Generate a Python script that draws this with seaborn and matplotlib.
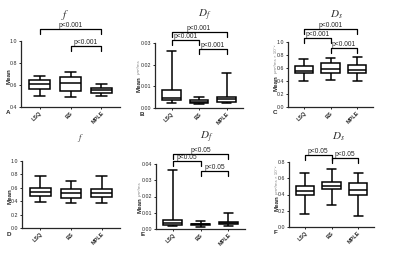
import numpy as np
import pandas as pd
import matplotlib
matplotlib.use("Agg")
import matplotlib.pyplot as plt
import seaborn as sns

sns.set_style("ticks")
plt.rcParams['font.family'] = ['Liberation Sans', 'DejaVu Sans']
plt.rcParams['mathtext.fontset'] = 'stix'

methods = ["LSQ", "BS", "MPLE"]

# five-number summaries (min, q1, median, q3, max)
f_1 = [[0.50, 0.56, 0.61, 0.645, 0.685],
       [0.49, 0.545, 0.615, 0.67, 0.72],
       [0.50, 0.53, 0.55, 0.575, 0.61]]
df_1 = [[0.0025, 0.0037, 0.0045, 0.0085, 0.0265],
        [0.0020, 0.0025, 0.0030, 0.0037, 0.0053],
        [0.0025, 0.0030, 0.0040, 0.0050, 0.0160]]
ds_1 = [[0.40, 0.52, 0.56, 0.63, 0.74],
        [0.41, 0.53, 0.59, 0.67, 0.76],
        [0.40, 0.53, 0.575, 0.65, 0.77]]
f_2 = [[0.39, 0.48, 0.53, 0.60, 0.78],
       [0.38, 0.45, 0.52, 0.58, 0.70],
       [0.37, 0.47, 0.52, 0.58, 0.78]]
df_2 = [[0.0020, 0.0027, 0.0035, 0.0058, 0.0365],
        [0.0012, 0.0025, 0.0030, 0.0033, 0.0048],
        [0.0020, 0.0028, 0.0035, 0.0045, 0.0100]]
ds_2 = [[0.16, 0.39, 0.44, 0.51, 0.66],
        [0.27, 0.465, 0.50, 0.555, 0.71],
        [0.13, 0.40, 0.46, 0.54, 0.67]]

# brackets: (left group, right group, height, label)
br_A = [(0, 2, 1.11, "p<0.001"), (1, 2, 0.955, "p<0.001")]
br_B = [(0, 2, 0.0351, "p<0.001"), (0, 1, 0.0314, "p<0.001"), (1, 2, 0.0272, "p<0.001")]
br_C = [(0, 2, 1.20, "p<0.001"), (0, 1, 1.06, "p<0.001"), (1, 2, 0.905, "p<0.001")]
br_D = []
br_E = [(0, 2, 0.046, "p<0.05"), (0, 1, 0.0418, "p<0.05"), (1, 2, 0.0357, "p<0.05")]
br_F = [(0, 1, 0.886, "p<0.05"), (1, 2, 0.85, "p<0.05")]

W, H = 400, 254
fig = plt.figure(figsize=(4, 2.54), dpi=100)

panels = [
    # data, box px (x0, y0, x1, y1), ylim, ticks, fmt, title, title x shift, title_y, title_size, letter, unit, brackets
    (f_1, (21, 41, 120, 107), (0.4, 1.0), [0.4, 0.6, 0.8, 1.0], "{:.1f}", r"$f$", -5, 15, 8, "A", "", br_A),
    (df_1, (155, 43, 243, 108), (0, 0.03), [0, 0.01, 0.02, 0.03], "{:.2f}", r"$D_f$", 6, 15, 8, "B", "μm²/ms", br_B),
    (ds_1, (288, 42, 373, 107), (0, 1.0), [0, 0.2, 0.4, 0.6, 0.8, 1.0], "{:.1f}", r"$D_s$", 6, 15, 8, "C", "μm²/ms × 10⁻²", br_C),
    (f_2, (22, 161, 120, 228), (0, 1.0), [0, 0.2, 0.4, 0.6, 0.8, 1.0], "{:.1f}", r"$f$", 9, 138, 6, "D", "", br_D),
    (df_2, (156, 164, 245, 229), (0, 0.04), [0, 0.01, 0.02, 0.03, 0.04], "{:.2f}", r"$D_f$", 6, 137, 8, "E", "μm²/ms", br_E),
    (ds_2, (289, 162, 374, 227), (0, 0.8), [0, 0.2, 0.4, 0.6, 0.8], "{:.1f}", r"$D_s$", 7, 137, 8, "F", "μm²/ms × 10⁻²", br_F),
]

for data, (x0, y0, x1, y1), ylim, ticks, fmt, title, tdx, ty, tsize, letter, unit, brs in panels:
    ax = fig.add_axes([x0 / W, 1 - y1 / H, (x1 - x0) / W, (y1 - y0) / H])
    rows = []
    for m, vals in zip(methods, data):
        for v in vals:
            rows.append({"method": m, "value": v})
    d = pd.DataFrame(rows)
    sns.boxplot(data=d, x="method", y="value", order=methods, ax=ax,
                whis=(0, 100), width=0.68, color="white", linecolor="black",
                linewidth=1.1, showfliers=False)
    ax.set_xlim(-0.6, 2.6)
    ax.set_ylim(*ylim)
    ax.set_yticks(ticks)
    ax.set_yticklabels([fmt.format(t) for t in ticks], fontsize=3.8)
    ax.set_xticks(range(3))
    ax.set_xticklabels(methods, rotation=45, ha="right", rotation_mode="anchor",
                       fontsize=4, fontweight="bold")
    ax.set_xlabel("")
    ax.set_ylabel("")
    ax.tick_params(length=1.5, width=0.7, pad=1)
    for s in ["top", "right"]:
        ax.spines[s].set_visible(False)
    for s in ["left", "bottom"]:
        ax.spines[s].set_linewidth(0.9)
    # significance brackets
    span = ylim[1] - ylim[0]
    for a, b, h, lab in brs:
        drop = 0.075 * span
        ax.plot([a, a, b, b], [h - drop, h, h, h - drop], color="black", lw=0.9, clip_on=False)
        ax.text((a + b) / 2, h + 0.005 * span, lab, ha="center", va="bottom", fontsize=4.8, clip_on=False)
    # title
    fig.text(((x0 + x1) / 2 + tdx) / W, 1 - ty / H, title, ha="center", va="center",
             fontsize=tsize, color="#333333")
    # y label
    ymid = (y0 + y1) / 2
    lx = x0 - (16 if fmt == "{:.2f}" else 12)
    if unit:
        fig.text(lx / W, 1 - (ymid + 1) / H, "Mean", rotation=90, ha="center", va="top",
                 fontsize=4.5, fontweight="bold")
        fig.text(lx / W, 1 - (ymid - 1) / H, unit, rotation=90, ha="center", va="bottom",
                 fontsize=3.2, color="#888888")
    else:
        fig.text(lx / W, 1 - (ymid + 2) / H, "Mean", rotation=90, ha="center", va="center",
                 fontsize=4.5, fontweight="bold")
    fig.text((x0 - 13) / W, 1 - (y1 + 6) / H, letter, ha="center", va="center",
             fontsize=4.5, fontweight="bold")

fig.savefig("out.png", dpi=100)
